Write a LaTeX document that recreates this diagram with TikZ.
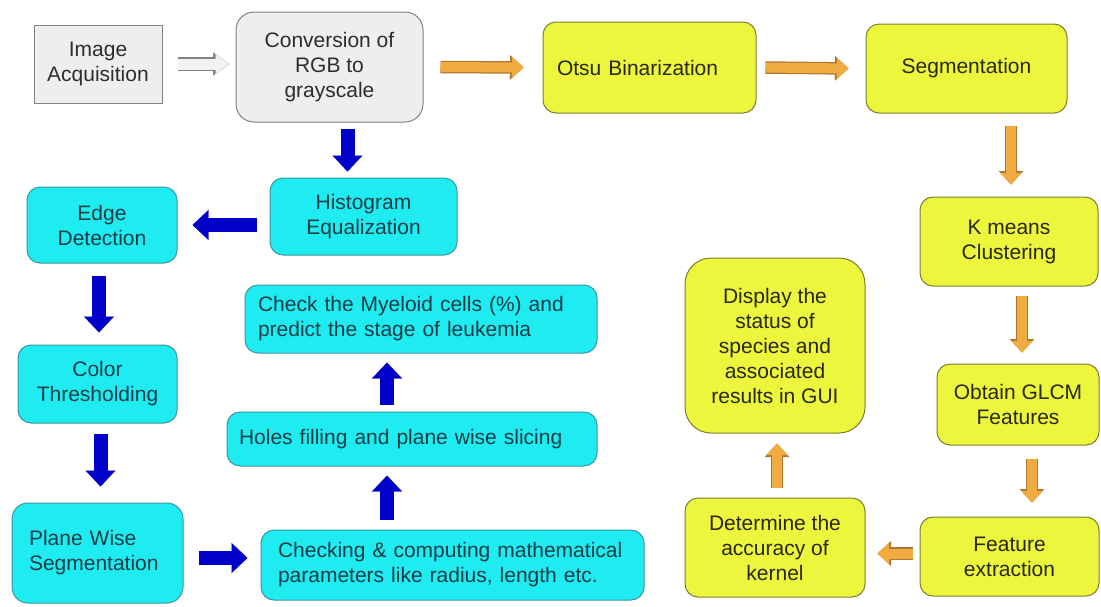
\documentclass[tikz,border=0pt]{standalone}
\usepackage{fontspec}
\setmainfont{Liberation Sans}
\usetikzlibrary{arrows.meta}
\definecolor{cyanfill}{RGB}{30,236,240}
\definecolor{cyanline}{RGB}{60,150,160}
\definecolor{cyantext}{RGB}{25,60,70}
\definecolor{yelfill}{RGB}{236,246,60}
\definecolor{yelline}{RGB}{125,125,50}
\definecolor{yeltext}{RGB}{40,40,20}
\definecolor{grayfill}{RGB}{238,238,238}
\definecolor{grayline}{RGB}{130,130,130}
\definecolor{graytext}{RGB}{45,45,45}
\definecolor{bluearr}{RGB}{0,0,200}
\definecolor{orfill}{RGB}{240,172,64}
\definecolor{orline}{RGB}{175,120,50}
\definecolor{hollowfill}{RGB}{242,242,242}
\tikzset{
  txt/.style={font=\fontsize{21}{25}\selectfont, align=center, inner sep=4pt},
  graybox/.style={txt, draw=grayline, fill=grayfill, text=graytext, line width=1pt},
  cyanbox/.style={txt, draw=cyanline, fill=cyanfill, text=cyantext, line width=1pt, rounded corners=13pt},
  yelbox/.style={txt, draw=yelline, fill=yelfill, text=yeltext, line width=1pt, rounded corners=13pt},
  bluearrow/.style={draw=bluearr, line width=14pt, -{Triangle[width=30pt,length=16pt,line width=0.1pt]}},
  orarrow/.style={draw=orfill, line width=10pt, -{Triangle[width=21pt,length=11.5pt,line width=0.1pt]},
    preaction={draw=orline, line width=12.5pt, -{Triangle[width=24.5pt,length=13.5pt,line width=0.1pt]}}},
  hollowarrow/.style={draw=hollowfill, line width=11pt, -{Triangle[width=19pt,length=14pt,line width=0.1pt]},
    preaction={draw=grayline, line width=13.5pt, -{Triangle[width=23pt,length=16.5pt,line width=0.1pt]}}},
}
\begin{document}
\begin{tikzpicture}[x=1pt,y=-1pt]
\useasboundingbox[fill=white] (0,0) rectangle (1101,606);
% top row
\node[graybox, minimum width=128pt, minimum height=78pt] (ia) at (98,64) {Image\\Acquisition};
\node[graybox, rounded corners=18pt, minimum width=187pt, minimum height=110pt] (conv) at (329.5,67) {Conversion of\\RGB to\\grayscale};
\node[yelbox, minimum width=213pt, minimum height=91pt, text width=185pt, align=left, inner xsep=14pt] (otsu) at (649.5,67.5) {Otsu Binarization};
\node[yelbox, minimum width=201pt, minimum height=89pt] (seg) at (966.5,68.5) {Segmentation};
% right column
\node[yelbox, minimum width=178pt, minimum height=89pt] (km) at (1009,241.5) {K means\\Clustering};
\node[yelbox, minimum width=162pt, minimum height=81pt] (glcm) at (1018,404.5) {Obtain GLCM\\Features};
\node[yelbox, minimum width=179pt, minimum height=79pt] (feat) at (1009.5,556.5) {Feature\\extraction};
\node[yelbox, minimum width=180pt, minimum height=99pt] (det) at (775,547.5) {Determine the\\accuracy of\\kernel};
\node[yelbox, rounded corners=26pt, minimum width=180pt, minimum height=175pt] (disp) at (775,345.5) {Display the\\status of\\species and\\associated\\results in GUI};
% cyan part
\node[cyanbox, minimum width=187pt, minimum height=77pt] (hist) at (363.5,216.5) {Histogram\\Equalization};
\node[cyanbox, minimum width=150pt, minimum height=76pt] (edge) at (102,225) {Edge\\Detection};
\node[cyanbox, minimum width=159pt, minimum height=78pt] (color) at (97.5,384) {Color\\Thresholding};
\node[cyanbox, rounded corners=16pt, minimum width=171pt, minimum height=100pt, text width=137pt, align=left, inner xsep=17pt] (plane) at (97.5,553) {Plane Wise\\Segmentation};
\node[cyanbox, minimum width=383pt, minimum height=70pt, text width=349pt, align=left, inner xsep=17pt] (chk) at (452.5,565) {Checking \& computing mathematical\\parameters like radius, length etc.};
\node[cyanbox, minimum width=370pt, minimum height=54pt, text width=346pt, align=left, inner xsep=12pt] (holes) at (412,439) {Holes filling and plane wise slicing};
\node[cyanbox, minimum width=352pt, minimum height=68pt, text width=326pt, align=left, inner xsep=13pt] (myel) at (421,319) {Check the Myeloid cells (\%) and\\predict the stage of leukemia};
% connectors
\draw[hollowarrow] ([xshift=15pt]ia.east) -- ([xshift=-6pt]conv.west |- ia.east);
\draw[orarrow] ([xshift=17pt]conv.east) -- ([xshift=-19pt]otsu.west);
\draw[orarrow] ([xshift=9pt]otsu.east) -- ([xshift=-17pt]seg.west);
\draw[orarrow] ([xshift=2pt,yshift=-12pt]km.north |- seg.south) -- ([xshift=2pt,yshift=12pt]km.north);
\draw[orarrow] ([xshift=4pt,yshift=-9pt]glcm.north |- km.south) -- ([xshift=4pt,yshift=11pt]glcm.north);
\draw[orarrow] ([xshift=14pt,yshift=-13pt]glcm.south) -- ([xshift=14pt,yshift=14pt]glcm.south |- feat.north);
\draw[orarrow] ([xshift=-7pt,yshift=3pt]feat.west) -- ([xshift=12pt,yshift=3pt]det.east |- feat.west);
\draw[orarrow] ([xshift=2pt,yshift=10pt]det.north) -- ([xshift=2pt,yshift=-10pt]disp.south);
\draw[bluearrow] ([xshift=18pt,yshift=-6pt]conv.south) -- ([xshift=18pt,yshift=6pt]conv.south |- hist.north);
\draw[bluearrow] ([xshift=-13pt]hist.west |- edge.east) -- ([xshift=15pt]edge.east);
\draw[bluearrow] ([xshift=-3pt,yshift=-12pt]edge.south) -- ([xshift=-3pt,yshift=12pt]edge.south |- color.north);
\draw[bluearrow] ([xshift=3pt,yshift=-10pt]color.south) -- ([xshift=3pt,yshift=16pt]color.south |- plane.north);
\draw[bluearrow] ([xshift=15pt,yshift=-5pt]plane.east) -- ([xshift=-13pt,yshift=-5pt]chk.west |- plane.east);
\draw[bluearrow] ([xshift=-25pt,yshift=10pt]holes.south |- chk.north) -- ([xshift=-25pt,yshift=-9pt]holes.south);
\draw[bluearrow] ([xshift=-25pt,yshift=7pt]holes.north) -- ([xshift=-25pt,yshift=-9pt]holes.north |- myel.south);
\end{tikzpicture}
\end{document}
